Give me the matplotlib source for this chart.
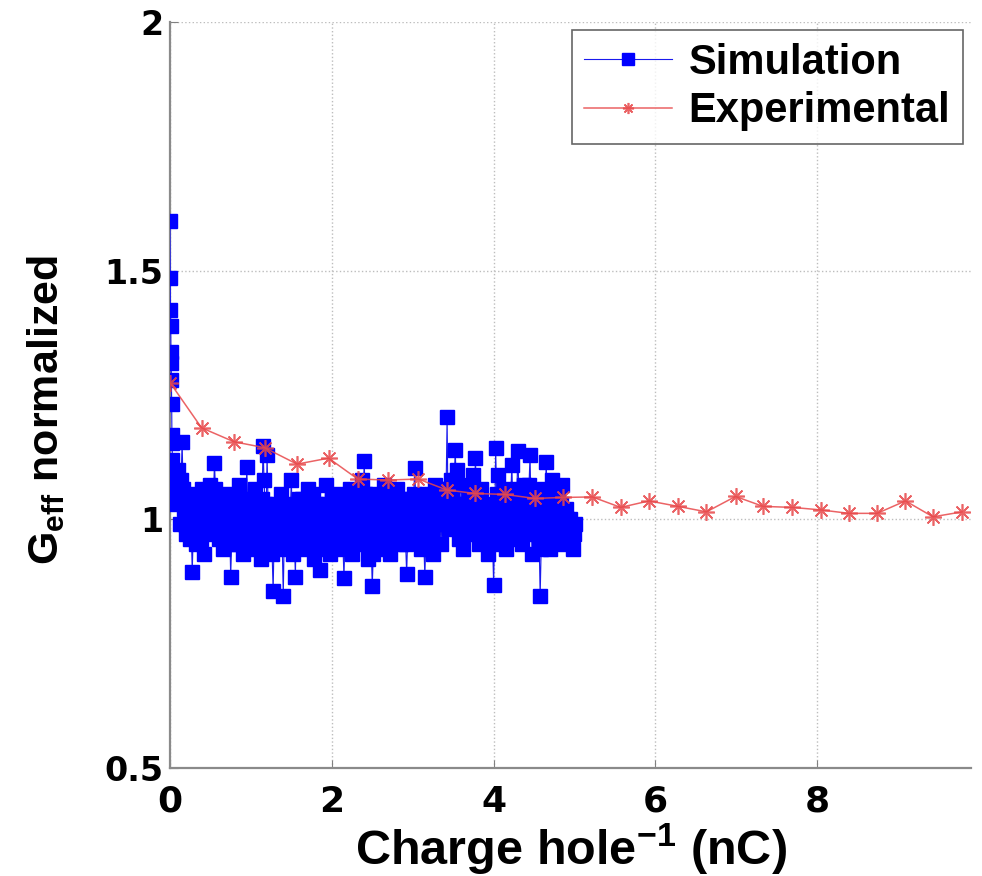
import matplotlib
matplotlib.use("Agg")
import matplotlib.pyplot as plt

plt.rcParams['mathtext.fontset'] = 'custom'
plt.rcParams['mathtext.rm'] = 'Liberation Sans'
plt.rcParams['mathtext.bf'] = 'Liberation Sans:bold'
plt.rcParams['mathtext.it'] = 'Liberation Sans:italic'

# ---------------- data ----------------
exp_x = [0.00, 0.39, 0.79, 1.17, 1.57, 1.96, 2.32, 2.70, 3.07, 3.42, 3.77, 4.14,
         4.51, 4.86, 5.22, 5.57, 5.92, 6.28, 6.63, 6.99, 7.33, 7.69, 8.04, 8.39,
         8.74, 9.09, 9.43, 9.79]
exp_y = [1.275, 1.184, 1.156, 1.144, 1.111, 1.123, 1.081, 1.079, 1.081, 1.059,
         1.052, 1.050, 1.042, 1.044, 1.045, 1.024, 1.037, 1.026, 1.015, 1.046,
         1.026, 1.024, 1.019, 1.012, 1.012, 1.037, 1.005, 1.015]

sim_x = [0.000, 0.003, 0.006, 0.009, 0.012, 0.015, 0.018, 0.021, 0.024, 0.027,
         0.030, 0.035, 0.040, 0.045,
         0.0500, 0.0625, 0.0750, 0.0875, 0.1000, 0.1125, 0.1250, 0.1375, 0.1500, 0.1625,
         0.1750, 0.1875, 0.2000, 0.2125, 0.2250, 0.2375, 0.2500, 0.2625, 0.2750, 0.2875,
         0.3000, 0.3125, 0.3250, 0.3375, 0.3500, 0.3625, 0.3750, 0.3875, 0.4000, 0.4125,
         0.4250, 0.4375, 0.4500, 0.4625, 0.4750, 0.4875, 0.5000, 0.5125, 0.5250, 0.5375,
         0.5500, 0.5625, 0.5750, 0.5875, 0.6000, 0.6125, 0.6250, 0.6375, 0.6500, 0.6625,
         0.6750, 0.6875, 0.7000, 0.7125, 0.7250, 0.7375, 0.7500, 0.7625, 0.7750, 0.7875,
         0.8000, 0.8125, 0.8250, 0.8375, 0.8500, 0.8625, 0.8750, 0.8875, 0.9000, 0.9125,
         0.9250, 0.9375, 0.9500, 0.9625, 0.9750, 0.9875, 1.0000, 1.0125, 1.0250, 1.0375,
         1.0500, 1.0625, 1.0750, 1.0875, 1.1000, 1.1125, 1.1250, 1.1375, 1.1500, 1.1625,
         1.1750, 1.1875, 1.2000, 1.2125, 1.2250, 1.2375, 1.2500, 1.2625, 1.2750, 1.2875,
         1.3000, 1.3125, 1.3250, 1.3375, 1.3500, 1.3625, 1.3750, 1.3875, 1.4000, 1.4125,
         1.4250, 1.4375, 1.4500, 1.4625, 1.4750, 1.4875, 1.5000, 1.5125, 1.5250, 1.5375,
         1.5500, 1.5625, 1.5750, 1.5875, 1.6000, 1.6125, 1.6250, 1.6375, 1.6500, 1.6625,
         1.6750, 1.6875, 1.7000, 1.7125, 1.7250, 1.7375, 1.7500, 1.7625, 1.7750, 1.7875,
         1.8000, 1.8125, 1.8250, 1.8375, 1.8500, 1.8625, 1.8750, 1.8875, 1.9000, 1.9125,
         1.9250, 1.9375, 1.9500, 1.9625, 1.9750, 1.9875, 2.0000, 2.0125, 2.0250, 2.0375,
         2.0500, 2.0625, 2.0750, 2.0875, 2.1000, 2.1125, 2.1250, 2.1375, 2.1500, 2.1625,
         2.1750, 2.1875, 2.2000, 2.2125, 2.2250, 2.2375, 2.2500, 2.2625, 2.2750, 2.2875,
         2.3000, 2.3125, 2.3250, 2.3375, 2.3500, 2.3625, 2.3750, 2.3875, 2.4000, 2.4125,
         2.4250, 2.4375, 2.4500, 2.4625, 2.4750, 2.4875, 2.5000, 2.5125, 2.5250, 2.5375,
         2.5500, 2.5625, 2.5750, 2.5875, 2.6000, 2.6125, 2.6250, 2.6375, 2.6500, 2.6625,
         2.6750, 2.6875, 2.7000, 2.7125, 2.7250, 2.7375, 2.7500, 2.7625, 2.7750, 2.7875,
         2.8000, 2.8125, 2.8250, 2.8375, 2.8500, 2.8625, 2.8750, 2.8875, 2.9000, 2.9125,
         2.9250, 2.9375, 2.9500, 2.9625, 2.9750, 2.9875, 3.0000, 3.0125, 3.0250, 3.0375,
         3.0500, 3.0625, 3.0750, 3.0875, 3.1000, 3.1125, 3.1250, 3.1375, 3.1500, 3.1625,
         3.1750, 3.1875, 3.2000, 3.2125, 3.2250, 3.2375, 3.2500, 3.2625, 3.2750, 3.2875,
         3.3000, 3.3125, 3.3250, 3.3375, 3.3500, 3.3625, 3.3750, 3.3875, 3.4000, 3.4125,
         3.4250, 3.4375, 3.4500, 3.4625, 3.4750, 3.4875, 3.5000, 3.5125, 3.5250, 3.5375,
         3.5500, 3.5625, 3.5750, 3.5875, 3.6000, 3.6125, 3.6250, 3.6375, 3.6500, 3.6625,
         3.6750, 3.6875, 3.7000, 3.7125, 3.7250, 3.7375, 3.7500, 3.7625, 3.7750, 3.7875,
         3.8000, 3.8125, 3.8250, 3.8375, 3.8500, 3.8625, 3.8750, 3.8875, 3.9000, 3.9125,
         3.9250, 3.9375, 3.9500, 3.9625, 3.9750, 3.9875, 4.0000, 4.0125, 4.0250, 4.0375,
         4.0500, 4.0625, 4.0750, 4.0875, 4.1000, 4.1125, 4.1250, 4.1375, 4.1500, 4.1625,
         4.1750, 4.1875, 4.2000, 4.2125, 4.2250, 4.2375, 4.2500, 4.2625, 4.2750, 4.2875,
         4.3000, 4.3125, 4.3250, 4.3375, 4.3500, 4.3625, 4.3750, 4.3875, 4.4000, 4.4125,
         4.4250, 4.4375, 4.4500, 4.4625, 4.4750, 4.4875, 4.5000, 4.5125, 4.5250, 4.5375,
         4.5500, 4.5625, 4.5750, 4.5875, 4.6000, 4.6125, 4.6250, 4.6375, 4.6500, 4.6625,
         4.6750, 4.6875, 4.7000, 4.7125, 4.7250, 4.7375, 4.7500, 4.7625, 4.7750, 4.7875,
         4.8000, 4.8125, 4.8250, 4.8375, 4.8500, 4.8625, 4.8750, 4.8875, 4.9000, 4.9125,
         4.9250, 4.9375, 4.9500, 4.9625, 4.9750, 4.9875, 5.0000]
sim_y = [1.600, 1.485, 1.421, 1.389, 1.337, 1.314, 1.280, 1.232, 1.170, 1.153,
         1.120, 1.090, 1.060, 1.040,
         1.08, 1.05, 1.03, 1.07, 1.10, 1.04, 0.99, 1.08, 1.156, 1.06,
         1.02, 0.99, 0.97, 1.01, 1.05, 1.00, 0.96, 0.98, 0.895, 0.97,
         1.00, 0.98, 0.95, 1.00, 1.04, 1.02, 0.98, 0.96, 1.06, 1.00,
         0.93, 0.98, 1.01, 1.04, 0.97, 1.02, 1.07, 1.00, 0.99, 1.05,
         1.113, 1.06, 1.03, 0.99, 0.96, 1.02, 1.00, 0.97, 0.94, 1.01,
         1.05, 1.03, 0.98, 0.96, 1.02, 0.99, 0.885, 0.95, 0.97, 1.02,
         1.04, 1.00, 0.95, 1.03, 1.07, 0.97, 0.99, 0.96, 0.93, 1.00,
         1.02, 1.04, 1.105, 1.01, 0.98, 0.95, 1.01, 0.97, 0.94, 1.03,
         1.06, 1.02, 0.97, 0.95, 1.00, 0.97, 0.92, 1.04, 1.147, 1.08,
         1.03, 1.00, 1.13, 1.03, 0.96, 0.98, 0.99, 0.93, 0.855, 0.97,
         0.95, 1.00, 1.02, 0.96, 0.98, 1.02, 1.05, 0.95, 0.846, 0.97,
         0.94, 0.99, 1.01, 1.03, 0.97, 1.02, 1.08, 0.99, 0.93, 0.96,
         0.884, 1.02, 0.99, 1.01, 1.04, 0.98, 0.96, 1.04, 1.02, 0.97,
         0.94, 1.03, 1.06, 1.00, 0.98, 0.96, 1.00, 1.05, 0.92, 0.98,
         1.03, 1.00, 0.97, 0.94, 0.898, 0.96, 1.01, 0.98, 0.95, 1.02,
         1.07, 1.03, 0.99, 0.96, 0.93, 1.00, 1.04, 0.99, 0.96, 1.03,
         1.02, 0.97, 0.94, 1.00, 1.05, 1.01, 0.98, 0.95, 0.882, 0.96,
         1.00, 1.03, 0.96, 1.00, 1.06, 0.98, 0.93, 0.97, 1.01, 1.04,
         0.97, 1.00, 1.04, 0.98, 0.95, 1.02, 1.08, 1.03, 1.117, 1.05,
         0.99, 0.95, 0.92, 0.98, 1.02, 0.94, 0.865, 0.93, 0.96, 1.01,
         1.05, 1.02, 0.98, 0.96, 1.01, 0.98, 0.94, 1.02, 1.07, 1.00,
         0.97, 1.04, 1.00, 0.96, 0.93, 0.99, 1.03, 1.00, 0.96, 1.03,
         1.06, 1.02, 0.99, 0.97, 0.95, 0.99, 1.02, 1.04, 0.97, 0.95,
         0.891, 0.96, 1.04, 1.01, 0.98, 1.00, 1.01, 1.05, 1.103, 1.04,
         0.96, 0.99, 1.03, 0.97, 0.94, 0.98, 1.00, 0.95, 0.885, 0.96,
         1.05, 1.01, 0.97, 1.00, 1.02, 0.97, 0.93, 1.01, 1.07, 1.03,
         0.99, 1.02, 1.04, 0.99, 0.95, 1.00, 1.06, 1.03, 1.01, 1.06,
         1.205, 1.00, 0.98, 1.04, 1.08, 1.05, 1.03, 1.07, 1.139, 1.08,
         1.10, 1.03, 0.96, 1.02, 1.07, 0.99, 0.94, 0.98, 1.02, 1.00,
         0.97, 1.03, 1.05, 1.01, 0.99, 1.06, 1.09, 1.04, 1.123, 1.05,
         1.00, 0.97, 0.95, 1.01, 1.06, 1.02, 0.98, 1.00, 1.03, 0.97,
         0.93, 0.99, 1.01, 0.98, 0.96, 0.95, 0.868, 0.97, 1.143, 1.05,
         1.09, 1.04, 1.02, 0.99, 0.97, 1.02, 1.06, 1.00, 0.94, 0.98,
         1.04, 1.01, 0.99, 1.05, 1.11, 1.03, 0.96, 0.99, 1.03, 1.06,
         1.138, 1.04, 1.00, 0.97, 0.95, 1.02, 1.07, 1.01, 0.98, 1.00,
         1.02, 1.07, 1.129, 1.02, 0.93, 0.98, 1.05, 1.00, 0.97, 0.99,
         1.01, 0.96, 0.845, 0.94, 0.97, 1.02, 1.06, 1.04, 1.116, 1.03,
         0.99, 0.97, 0.94, 1.01, 1.08, 1.05, 1.03, 0.99, 0.96, 1.00,
         1.04, 1.01, 0.98, 1.03, 1.07, 0.98, 0.95, 0.99, 1.02, 1.00,
         0.97, 0.98, 1.00, 0.96, 0.94, 0.97, 0.99]

x_ticks = [0, 2, 4, 6, 8]
y_ticks = [0.5, 1, 1.5, 2]
y_tick_labels = ['0.5', '1', '1.5', '2']

# ---------------- figure ----------------
fig = plt.figure(figsize=(9.82, 8.76), dpi=100)
ax = fig.add_axes([0.1731, 0.1233, 0.8157, 0.8516])

ax.plot(sim_x, sim_y, '-', color='#1a1aee', linewidth=0.8, marker='s',
        markersize=9.5, markerfacecolor='#0000ff', markeredgecolor='#0000ff',
        label='Simulation', zorder=3)
ax.plot(exp_x, exp_y, '-', color='#e8484a', linewidth=1.1, marker=(8, 2, 0),
        markersize=12, markeredgewidth=1.2, alpha=0.85,
        label='Experimental', zorder=4)

ax.set_xlim(0, 9.9)
ax.set_ylim(0.5, 2)
ax.set_xticks(x_ticks)
ax.set_xticklabels([str(t) for t in x_ticks], fontsize=26,
                   fontweight='bold', family='DejaVu Sans')
ax.set_yticks(y_ticks)
ax.set_yticklabels(y_tick_labels, fontsize=24, fontweight='bold',
                   family='DejaVu Sans')
ax.tick_params(axis='x', direction='in', length=6, color='#808080', pad=12)
ax.tick_params(axis='y', direction='in', length=6, color='#808080', pad=5)

for s in ['top', 'right']:
    ax.spines[s].set_visible(False)
for s in ['left', 'bottom']:
    ax.spines[s].set_color('#8a8a8a')
    ax.spines[s].set_linewidth(1.6)

ax.grid(True, linestyle=':', color='#bdbdbd', linewidth=1.0)
ax.set_axisbelow(True)

ax.set_xlabel(r'Charge hole$^{\mathbf{-1}}$ (nC)', fontsize=35,
              fontweight='bold', family='Liberation Sans', labelpad=2)
ax.set_ylabel(r'$\mathbf{G_{eff}}$ normalized', fontsize=31,
              fontweight='bold', family='Liberation Sans')
ax.yaxis.set_label_coords(-0.128, 0.48)

leg = ax.legend(loc='upper right', frameon=True, fancybox=False,
                borderaxespad=0.2, handlelength=2.1, handletextpad=0.4,
                labelspacing=0.2, borderpad=0.3,
                prop={'family': 'Liberation Sans', 'weight': 'bold', 'size': 30})
leg.get_frame().set_edgecolor('#404040')
leg.get_frame().set_linewidth(1.2)
for h in leg.legend_handles:
    h.set_markersize(8)

fig.savefig('out.png', dpi=100)
